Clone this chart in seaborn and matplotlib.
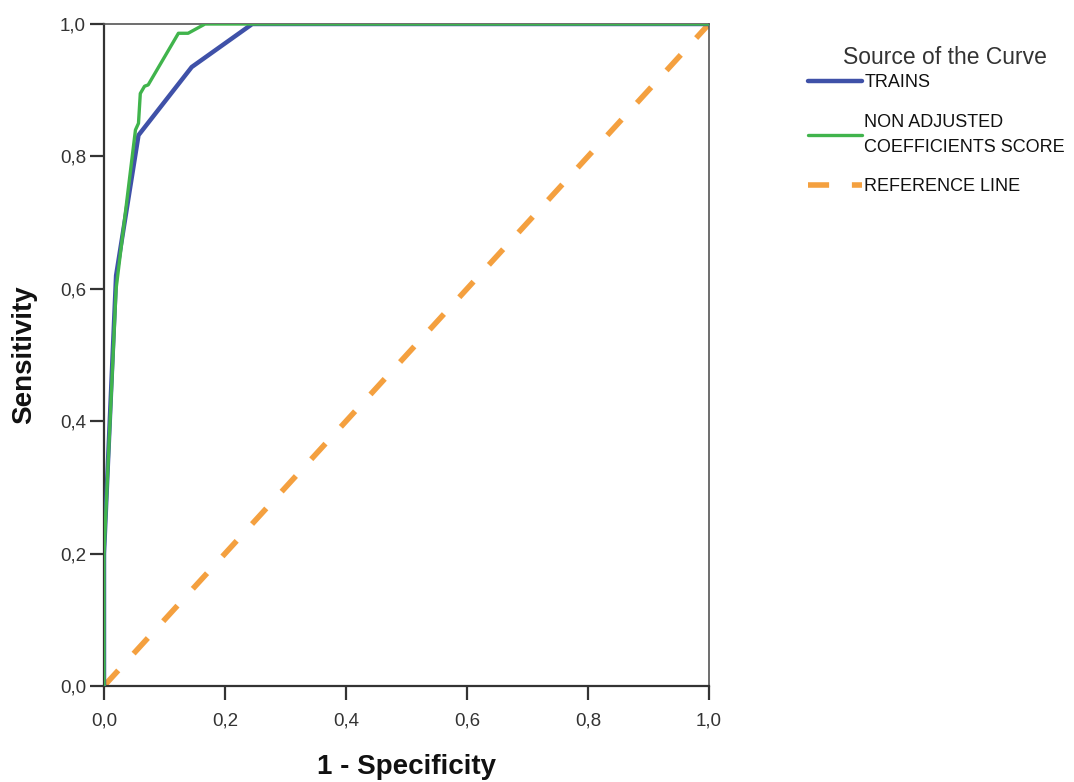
import matplotlib
matplotlib.use("Agg")
import matplotlib.pyplot as plt
import seaborn as sns
import pandas as pd
from matplotlib.lines import Line2D
from matplotlib.ticker import FuncFormatter

# ROC curve coordinates (1 - specificity, sensitivity)
trains_fpr = [0.0, 0.0, 0.02, 0.057, 0.145, 0.245, 1.0]
trains_tpr = [0.0, 0.2, 0.62, 0.832, 0.935, 1.0, 1.0]

nacs_fpr = [0.0, 0.0, 0.02, 0.04, 0.052, 0.057, 0.06, 0.067, 0.073, 0.123, 0.139, 0.167, 1.0]
nacs_tpr = [0.0, 0.2, 0.60, 0.75, 0.84, 0.85, 0.895, 0.906, 0.908, 0.986, 0.986, 1.0, 1.0]

ref_x = [0.0, 1.0]
ref_y = [0.0, 1.0]

series_names = ["TRAINS", "NON ADJUSTED\nCOEFFICIENTS SCORE", "REFERENCE LINE"]
series_colors = ["#3F51A8", "#40B44C", "#F4A03F"]

sns.set_style("white")
plt.rcParams["font.family"] = ["Liberation Sans", "DejaVu Sans"]

df = pd.concat([
    pd.DataFrame({"x": trains_fpr, "y": trains_tpr, "curve": series_names[0]}),
    pd.DataFrame({"x": nacs_fpr, "y": nacs_tpr, "curve": series_names[1]}),
])

fig = plt.figure(figsize=(10.74, 7.82), dpi=100)
ax = fig.add_axes([104 / 1074, 1 - 686 / 782, 605 / 1074, 662 / 782])

ref_dashes = (3.8, 4.1)
ax.plot(ref_x, ref_y, color=series_colors[2], lw=4.0, dashes=ref_dashes, solid_capstyle="butt", zorder=2)
sns.lineplot(data=df[df.curve == series_names[0]], x="x", y="y", color=series_colors[0],
             lw=3.2, sort=False, estimator=None, ax=ax, zorder=3)
sns.lineplot(data=df[df.curve == series_names[1]], x="x", y="y", color=series_colors[1],
             lw=2.4, sort=False, estimator=None, ax=ax, zorder=4)

ax.set_xlim(0, 1)
ax.set_ylim(0, 1)
ticks = [0, 0.2, 0.4, 0.6, 0.8, 1.0]
ax.set_xticks(ticks)
ax.set_yticks(ticks)
fmt = FuncFormatter(lambda v, p: f"{v:.1f}".replace(".", ","))
ax.xaxis.set_major_formatter(fmt)
ax.yaxis.set_major_formatter(fmt)
ax.tick_params(axis="both", direction="out", length=10, width=1.6, color="#333333",
               labelsize=13.5, labelcolor="#333333", bottom=True, left=True)
ax.tick_params(axis="x", pad=9)
ax.tick_params(axis="y", pad=3)

for side in ["left", "bottom"]:
    ax.spines[side].set_color("#333333")
    ax.spines[side].set_linewidth(1.6)
for side in ["top", "right"]:
    ax.spines[side].set_color("#555555")
    ax.spines[side].set_linewidth(1.2)

ax.set_xlabel("1 - Specificity", fontsize=20, fontweight="bold", labelpad=18, color="#111111")
ax.set_ylabel("Sensitivity", fontsize=20, fontweight="bold", labelpad=16, color="#111111")

# Legend title placed as its own text, entries below it
fig.text(945 / 1074, 1 - 57 / 782, "Source of the Curve", ha="center", va="center",
         fontsize=16.5, color="#333333")
handles = [
    Line2D([0], [0], color=series_colors[0], lw=3.2),
    Line2D([0], [0], color=series_colors[1], lw=2.4),
    Line2D([0], [0], color=series_colors[2], lw=4.0, dashes=ref_dashes),
]
leg = fig.legend(handles, series_names, loc="upper left",
                 bbox_to_anchor=(792 / 1074, 1 - 58 / 782), frameon=False,
                 handlelength=3.0, handletextpad=0.1, labelspacing=1.25,
                 prop={"size": 13})
for t in leg.get_texts():
    t.set_color("#111111")
    t.set_linespacing(1.6)

fig.savefig("out.png", dpi=100)
